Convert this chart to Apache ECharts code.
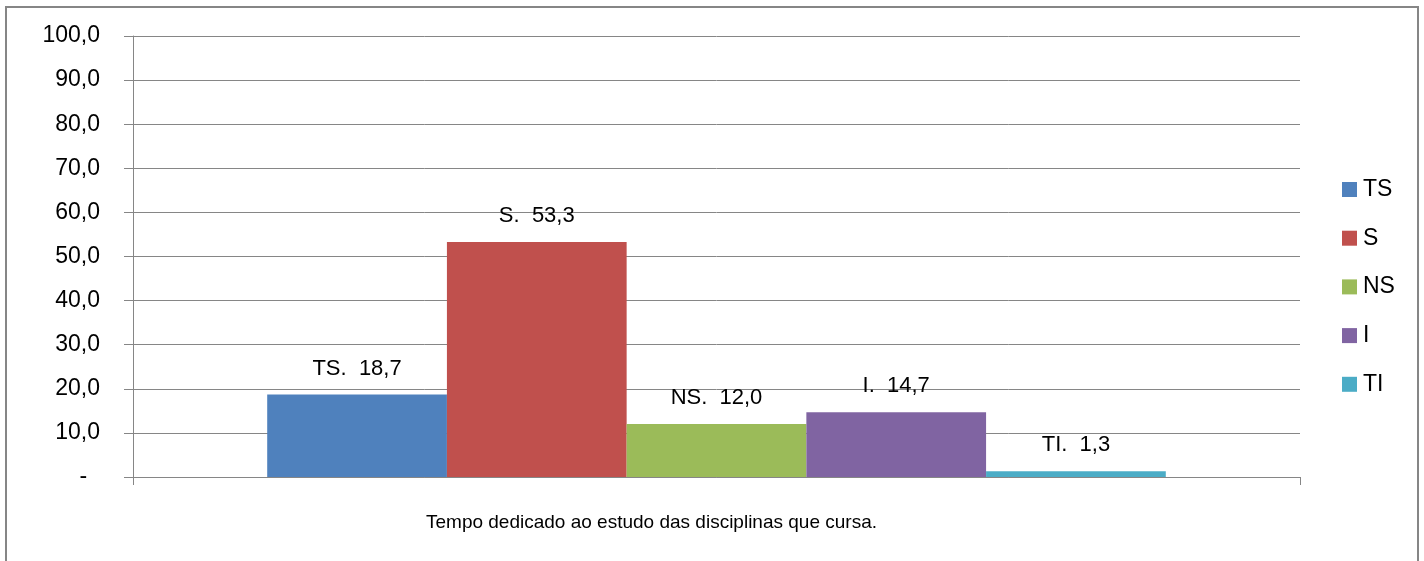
<!DOCTYPE html>
<html>
<head>
<meta charset="utf-8">
<script src="https://cdn.jsdelivr.net/npm/echarts@6/dist/echarts.min.js"></script>
<style>
  html, body { margin: 0; padding: 0; background: #fff; }
  #chart { width: 1424px; height: 561px; }
</style>
</head>
<body>
<div id="chart"></div>
<script>
var categories = ['Tempo dedicado ao estudo das disciplinas que cursa.'];
var seriesNames = ['TS', 'S', 'NS', 'I', 'TI'];
var seriesValues = [18.7, 53.3, 12.0, 14.7, 1.3];
var yTicks = [0, 10, 20, 30, 40, 50, 60, 70, 80, 90, 100];

var palette = ['#4F81BD', '#C0504D', '#9BBB59', '#8064A2', '#4BACC6'];
var axisGray = '#868686';
var font = '"Liberation Sans", Arial, sans-serif';

function fmt(v) {
  return v.toFixed(1).replace('.', ',');
}

var myChart = echarts.init(document.getElementById('chart'), null, { renderer: 'canvas' });

var series = seriesNames.map(function(name, i) {
  return {
    name : name,
    type : 'bar',
    data : [seriesValues[i]],
    barGap : '0%',
    barCategoryGap : '23%',
    itemStyle : { color : palette[i] },
    label : {
      show : true,
      position : 'top',
      distance : 15,
      color : '#000',
      fontFamily : font,
      fontSize : 22,
      formatter : function(p) {
        return p.seriesName + '.  ' + fmt(p.value);
      }
    }
  };
});

var option = {
  animation : false,
  backgroundColor : '#fff',
  color : palette,
  graphic : [{
    type : 'rect',
    silent : true,
    shape : { x : 6, y : 7, width : 1412, height : 600 },
    style : { fill : 'none', stroke : axisGray, lineWidth : 2 }
  }],
  grid : { left : 133, right : 124, top : 36, bottom : 84 },
  legend : {
    orient : 'vertical',
    left : 1342,
    top : 178,
    padding : 0,
    itemWidth : 15,
    itemHeight : 15,
    itemGap : 25.7,
    icon : 'rect',
    textStyle : { color : '#000', fontFamily : font, fontSize : 23, lineHeight : 22, padding : [0, 0, 0, 1] },
    data : seriesNames
  },
  xAxis : {
    type : 'category',
    data : categories,
    axisLine : { lineStyle : { color : axisGray, width : 1 } },
    axisTick : { show : true, length : 8, lineStyle : { color : axisGray } },
    axisLabel : {
      color : '#000',
      fontFamily : font,
      fontSize : 19,
      margin : 36,
      padding : [0, 130, 0, 0]
    }
  },
  yAxis : {
    type : 'value',
    min : yTicks[0],
    max : yTicks[yTicks.length - 1],
    interval : 10,
    axisLine : { show : true, lineStyle : { color : axisGray, width : 1 } },
    axisTick : { show : true, length : 9, lineStyle : { color : axisGray } },
    splitLine : { show : true, lineStyle : { color : axisGray, width : 1 } },
    axisLabel : {
      color : '#000',
      fontFamily : font,
      fontSize : 23,
      margin : 33,
      formatter : function(v) {
        return v === 0 ? '-  ' : fmt(v);
      }
    }
  },
  series : series
};

myChart.setOption(option);
</script>
</body>
</html>
